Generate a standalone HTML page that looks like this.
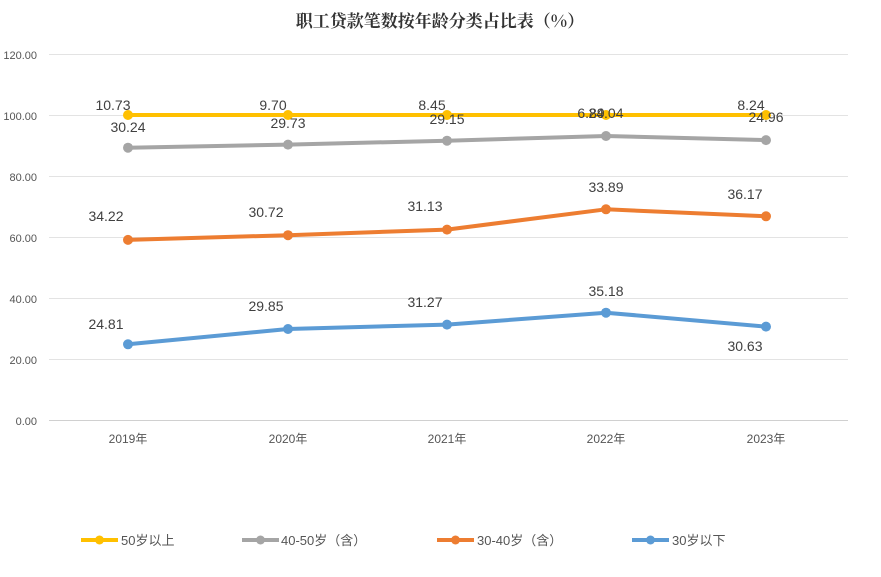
<!DOCTYPE html>
<html><head><meta charset="utf-8"><style>
body{margin:0;background:#fff}
svg text{font-family:"Liberation Sans","Noto Sans CJK SC",sans-serif}
</style></head><body>
<svg width="881" height="572" viewBox="0 0 881 572" xmlns="http://www.w3.org/2000/svg">
<rect width="881" height="572" fill="#fff"/>
<text x="440" y="27" text-anchor="middle" font-size="17" font-weight="bold" fill="#333" style="font-family:'Noto Serif CJK SC','Noto Sans CJK SC',serif">职工贷款笔数按年龄分类占比表（%）</text>
<g stroke="#e3e3e3" stroke-width="1">
<line x1="49" x2="848" y1="54.5" y2="54.5"/><line x1="49" x2="848" y1="115.5" y2="115.5"/>
<line x1="49" x2="848" y1="176.5" y2="176.5"/><line x1="49" x2="848" y1="237.5" y2="237.5"/>
<line x1="49" x2="848" y1="298.5" y2="298.5"/><line x1="49" x2="848" y1="359.5" y2="359.5"/>
<line x1="49" x2="848" y1="420.5" y2="420.5" stroke="#d0d0d0"/>
</g>
<g font-size="11" fill="#555" text-anchor="end">
<text x="37" y="59">120.00</text><text x="37" y="120">100.00</text><text x="37" y="181">80.00</text>
<text x="37" y="242">60.00</text><text x="37" y="303">40.00</text><text x="37" y="364">20.00</text><text x="37" y="425">0.00</text>
</g>
<g font-size="12" fill="#555" text-anchor="middle">
<text x="128" y="443">2019年</text><text x="288" y="443">2020年</text><text x="447" y="443">2021年</text><text x="606" y="443">2022年</text><text x="766" y="443">2023年</text>
</g>
<g stroke-width="4" fill="none" stroke-linejoin="round">
<polyline stroke="#FFC000" points="128,115 288,115 447,115 606,115 766,115"/>
<polyline stroke="#A5A5A5" points="128,147.7 288,144.6 447,140.7 606,136 766,140.1"/>
<polyline stroke="#ED7D31" points="128,239.9 288,235.2 447,229.6 606,209.3 766,216.3"/>
<polyline stroke="#5B9BD5" points="128,344.3 288,329 447,324.6 606,312.7 766,326.6"/>
</g>
<g fill="#FFC000"><circle cx="128" cy="115" r="5"/><circle cx="288" cy="115" r="5"/><circle cx="447" cy="115" r="5"/><circle cx="606" cy="115" r="5"/><circle cx="766" cy="115" r="5"/></g>
<g fill="#A5A5A5"><circle cx="128" cy="147.7" r="5"/><circle cx="288" cy="144.6" r="5"/><circle cx="447" cy="140.7" r="5"/><circle cx="606" cy="136" r="5"/><circle cx="766" cy="140.1" r="5"/></g>
<g fill="#ED7D31"><circle cx="128" cy="239.9" r="5"/><circle cx="288" cy="235.2" r="5"/><circle cx="447" cy="229.6" r="5"/><circle cx="606" cy="209.3" r="5"/><circle cx="766" cy="216.3" r="5"/></g>
<g fill="#5B9BD5"><circle cx="128" cy="344.3" r="5"/><circle cx="288" cy="329" r="5"/><circle cx="447" cy="324.6" r="5"/><circle cx="606" cy="312.7" r="5"/><circle cx="766" cy="326.6" r="5"/></g>
<g font-size="14" fill="#404040" text-anchor="middle">
<text x="113" y="110">10.73</text><text x="273" y="110">9.70</text><text x="432" y="110">8.45</text><text x="591" y="118">6.89</text><text x="751" y="110">8.24</text>
<text x="128" y="132">30.24</text><text x="288" y="128">29.73</text><text x="447" y="124">29.15</text><text x="606" y="118">24.04</text><text x="766" y="122">24.96</text>
<text x="106" y="221">34.22</text><text x="266" y="217">30.72</text><text x="425" y="211">31.13</text><text x="606" y="192">33.89</text><text x="745" y="199">36.17</text>
<text x="106" y="329">24.81</text><text x="266" y="311">29.85</text><text x="425" y="307">31.27</text><text x="606" y="296">35.18</text><text x="745" y="351">30.63</text>
</g>
<g stroke-width="4">
<line x1="81" x2="118" y1="540" y2="540" stroke="#FFC000"/><circle cx="99.5" cy="540" r="4.5" fill="#FFC000"/>
<line x1="242" x2="279" y1="540" y2="540" stroke="#A5A5A5"/><circle cx="260.5" cy="540" r="4.5" fill="#A5A5A5"/>
<line x1="437" x2="474" y1="540" y2="540" stroke="#ED7D31"/><circle cx="455.5" cy="540" r="4.5" fill="#ED7D31"/>
<line x1="632" x2="669" y1="540" y2="540" stroke="#5B9BD5"/><circle cx="650.5" cy="540" r="4.5" fill="#5B9BD5"/>
</g>
<g font-size="13" fill="#555">
<text x="121" y="545">50岁以上</text><text x="281" y="545">40-50岁（含）</text><text x="477" y="545">30-40岁（含）</text><text x="672" y="545">30岁以下</text>
</g>
</svg>
</body></html>
